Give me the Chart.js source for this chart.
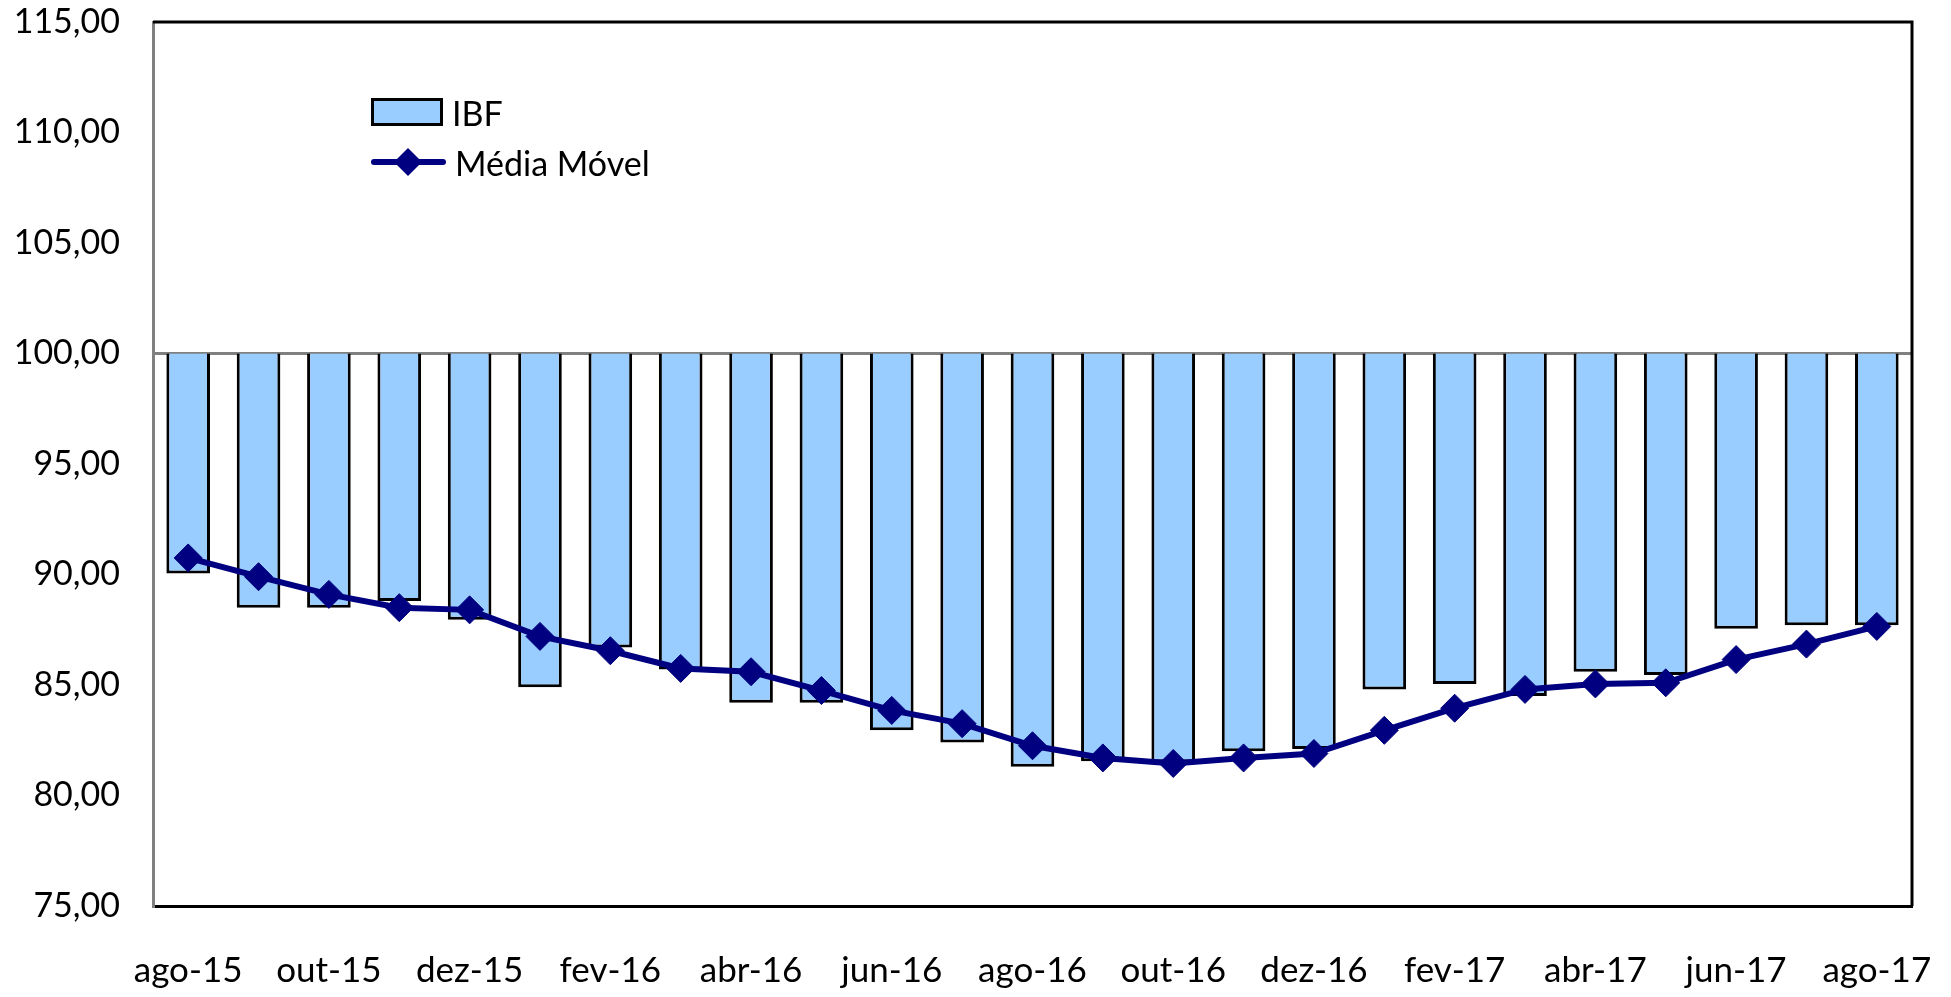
<!DOCTYPE html>
<html lang="pt-BR">
<head>
<meta charset="utf-8">
<title>IBF - Média Móvel</title>
<script src="https://cdn.jsdelivr.net/npm/chart.js@4.4.1/dist/chart.umd.min.js"></script>
<style>
    html, body { margin: 0; padding: 0; background: #fff; }
    #wrap { position: relative; width: 1951px; height: 997px; }
    #legend {
        position: absolute; left: 371px; top: 87px;
        font-family: Lato, "Noto Sans", sans-serif; font-size: 34px; color: #000;
    }
    .leg-row { display: flex; align-items: center; height: 50px; }
    .leg-row span { margin-left: 9px; }
</style>
</head>
<body>
<div id="wrap">
    <canvas id="ibfChart" width="1951" height="997"></canvas>
    <div id="legend">
        <div class="leg-row">
            <div style="width:66px;height:22px;background:#99ccff;border:3px solid #000;"></div>
            <span>IBF</span>
        </div>
        <div class="leg-row">
            <svg width="75" height="32" viewBox="0 0 75 32">
                <line x1="3" y1="16" x2="72" y2="16" stroke="#000080" stroke-width="6" stroke-linecap="round"/>
                <polygon points="37,2 51,16 37,30 23,16" fill="#000080"/>
            </svg>
            <span>Média Móvel</span>
        </div>
    </div>
</div>

<script>
// ---------- DATA ----------
const months = [
    "ago-15", "set-15", "out-15", "nov-15", "dez-15",
    "jan-16", "fev-16", "mar-16", "abr-16", "mai-16", "jun-16", "jul-16",
    "ago-16", "set-16", "out-16", "nov-16", "dez-16",
    "jan-17", "fev-17", "mar-17", "abr-17", "mai-17", "jun-17", "jul-17", "ago-17"
];

const ibf = [
    90.05, 88.5, 88.5, 88.8, 87.95,
    84.9, 86.7, 85.7, 84.2, 84.2, 82.95, 82.4,
    81.3, 81.55, 81.5, 82.0, 82.1,
    84.8, 85.05, 84.5, 85.6, 85.45, 87.55, 87.7, 87.7
];

const mediaMovel = [
    90.75, 89.9, 89.1, 88.5, 88.4,
    87.2, 86.55, 85.75, 85.6, 84.75, 83.85, 83.25,
    82.25, 81.7, 81.45, 81.7, 81.9,
    82.95, 83.95, 84.8, 85.05, 85.1, 86.15, 86.85, 87.65
];

const baseLine = 100;   // bars hang from the 100 line
const yTicks = [75, 80, 85, 90, 95, 100, 105, 110, 115];

const fmtBR = v => v.toFixed(2).replace(".", ",");

// ---------- FRAME (top / right border in black) ----------
const framePlugin = {
    id: "frame",
    afterDraw(chart) {
        const { ctx, chartArea: a } = chart;
        ctx.save();
        ctx.strokeStyle = "#000";
        ctx.lineWidth = 3;
        ctx.beginPath();
        ctx.moveTo(a.left, a.top);
        ctx.lineTo(a.right, a.top);
        ctx.lineTo(a.right, a.bottom);
        ctx.stroke();
        ctx.restore();
    }
};

// ---------- CHART ----------
const ctx = document.getElementById("ibfChart");

new Chart(ctx, {
    type: "bar",
    data: {
        labels: months,
        datasets: [
            {
                type: "line",
                label: "Média Móvel",
                data: mediaMovel,
                borderColor: "#000080",
                borderWidth: 6,
                pointStyle: "rectRot",
                pointRadius: 14,
                pointBackgroundColor: "#000080",
                pointBorderColor: "#000080",
                pointBorderWidth: 1,
                tension: 0,
                order: 0
            },
            {
                label: "IBF",
                data: ibf.map(v => [baseLine, v]),
                backgroundColor: "#99ccff",
                borderColor: "#000000",
                borderWidth: { top: 0, left: 3, right: 3, bottom: 3 },
                borderSkipped: false,
                barPercentage: 0.62,
                categoryPercentage: 1,
                order: 1
            }
        ]
    },
    options: {
        responsive: false,
        devicePixelRatio: 1,
        animation: false,
        layout: { padding: { left: 12, top: 22, right: 39, bottom: 0 } },
        plugins: {
            legend: { display: false },
            tooltip: { enabled: false }
        },
        scales: {
            x: {
                // invisible tick marks give the gap under the axis
                grid: { display: false, drawTicks: true, tickLength: 44, tickColor: "rgba(0,0,0,0)" },
                border: { color: "#000", width: 3 },
                afterFit: s => { s.height = 91; },
                ticks: {
                    autoSkip: false,
                    maxRotation: 0,
                    padding: 0,
                    color: "#000",
                    font: { family: "Lato", size: 35 },
                    callback: (v, i) => (i % 2 === 0 ? months[i] : "")
                }
            },
            y: {
                min: 75,
                max: 115,
                afterFit: s => { s.width = 141; },
                afterBuildTicks: s => { s.ticks = yTicks.map(v => ({ value: v })); },
                grid: {
                    drawTicks: true,
                    tickLength: 33,
                    tickColor: "rgba(0,0,0,0)",
                    color: c => (c.tick && c.tick.value === baseLine ? "#808080" : "rgba(0,0,0,0)"),
                    lineWidth: 3
                },
                border: { color: "#808080", width: 3 },
                ticks: {
                    padding: 0,
                    color: "#000",
                    font: { family: "Lato", size: 34 },
                    callback: v => fmtBR(v)
                }
            }
        }
    },
    plugins: [framePlugin]
});
</script>
</body>
</html>
